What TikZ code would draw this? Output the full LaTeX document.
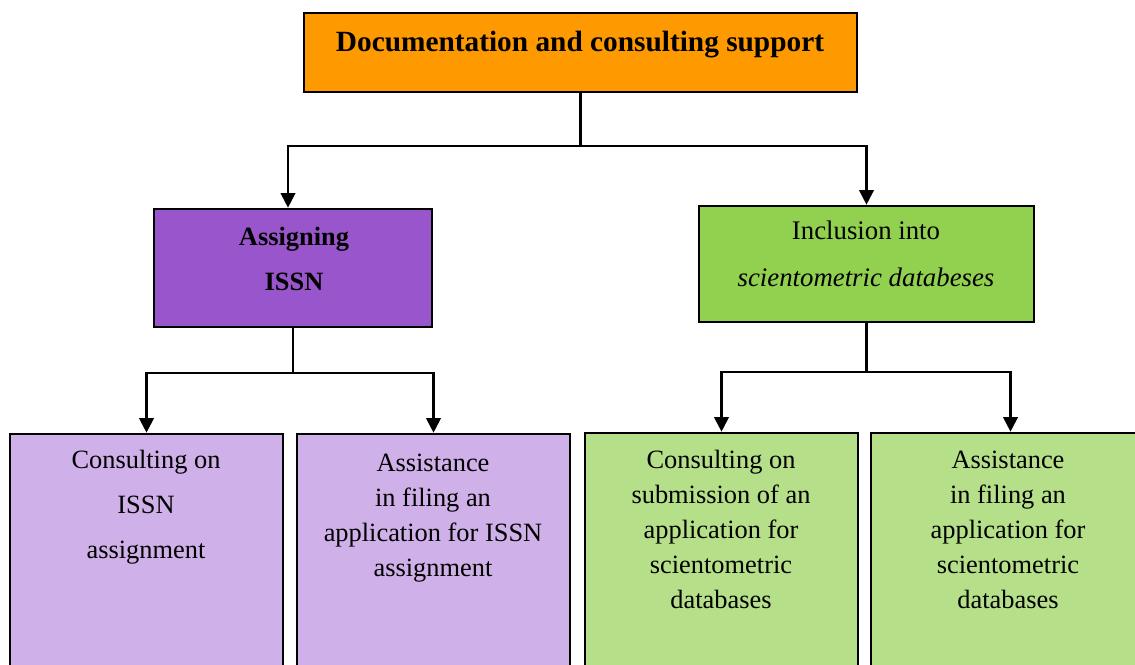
\documentclass[tikz,border=0pt]{standalone}
\usepackage{fontspec}
\setmainfont{Liberation Serif}
\usetikzlibrary{arrows.meta}
\definecolor{orangeF}{HTML}{FF9900}
\definecolor{purpleF}{HTML}{9955CC}
\definecolor{greenF}{HTML}{92D050}
\definecolor{lpurple}{HTML}{D0B0E8}
\definecolor{lgreen}{HTML}{B5DF88}
\begin{document}
\begin{tikzpicture}[x=0.75pt,y=-0.75pt,
  box/.style={draw=black, line width=2pt, inner sep=0pt, rectangle},
  txt/.style={align=center, inner sep=0pt, anchor=north},
  conn/.style={draw=black, line width=1.6pt},
  arr/.style={conn, -{Triangle[width=11pt,length=11pt]}}]
\useasboundingbox (0,0) rectangle (1135,664);
\clip (0,0) rectangle (1135,664);
% boxes
\node[box, fill=orangeF, minimum width=414.75pt, minimum height=59.25pt] (top) at (580.5,52.5) {};
\node[box, fill=purpleF, minimum width=208.5pt, minimum height=88.5pt] (assign) at (293,268) {};
\node[box, fill=greenF, minimum width=251.25pt, minimum height=87pt] (incl) at (866.5,264) {};
\node[box, fill=lpurple, minimum width=204.75pt, minimum height=199.5pt] (b1) at (146.5,567) {};
\node[box, fill=lpurple, minimum width=204.75pt, minimum height=199.5pt] (b2) at (433.5,567) {};
\node[box, fill=lgreen, minimum width=204.75pt, minimum height=200.25pt] (b3) at (721.5,566.5) {};
\node[box, fill=lgreen, minimum width=209.25pt, minimum height=200.25pt] (b4) at (1010.5,566.5) {};
% texts
\node[txt, font=\fontsize{22}{26}\selectfont\bfseries] (ttop) at (580,31) {Documentation and consulting support};
\node[txt, font=\fontsize{19.8}{33.75}\selectfont\bfseries] (tassign) at (294,227) {Assigning\\ISSN};
\node[txt, font=\fontsize{20.1}{35.25}\selectfont] (tincl) at (866,221) {Inclusion into\\\textit{scientometric databeses}};
\node[txt, font=\fontsize{19.8}{33.75}\selectfont] (tb1) at (146,450) {Consulting on\\ISSN\\assignment};
\node[txt, font=\fontsize{19.8}{26.25}\selectfont] (tb2) at (433,454) {Assistance\\in filing an\\application for ISSN\\assignment};
\node[txt, font=\fontsize{19.8}{26.25}\selectfont] (tb3) at (721,450) {Consulting on\\submission of an\\application for\\scientometric\\databases};
\node[txt, font=\fontsize{19.8}{26.25}\selectfont] (tb4) at (1008,451) {Assistance\\in filing an\\application for\\scientometric\\databases};
% junctions
\coordinate (j1) at (top.south |- 0,146);
\coordinate (j2) at (assign.south |- 0,373);
\coordinate (j3) at (incl.south |- 0,372);
% connectors
\draw[conn] (top.south) -- (j1);
\draw[arr] (j1) -| ([xshift=-3.75pt]assign.north);
\draw[arr] (j1) -| (incl.north);
\draw[conn] (assign.south) -- (j2);
\draw[arr] (j2) -| (b1.north);
\draw[arr] (j2) -| (b2.north);
\draw[conn] (incl.south) -- (j3);
\draw[arr] (j3) -| (b3.north);
\draw[arr] (j3) -| (b4.north);
\end{tikzpicture}
\end{document}
